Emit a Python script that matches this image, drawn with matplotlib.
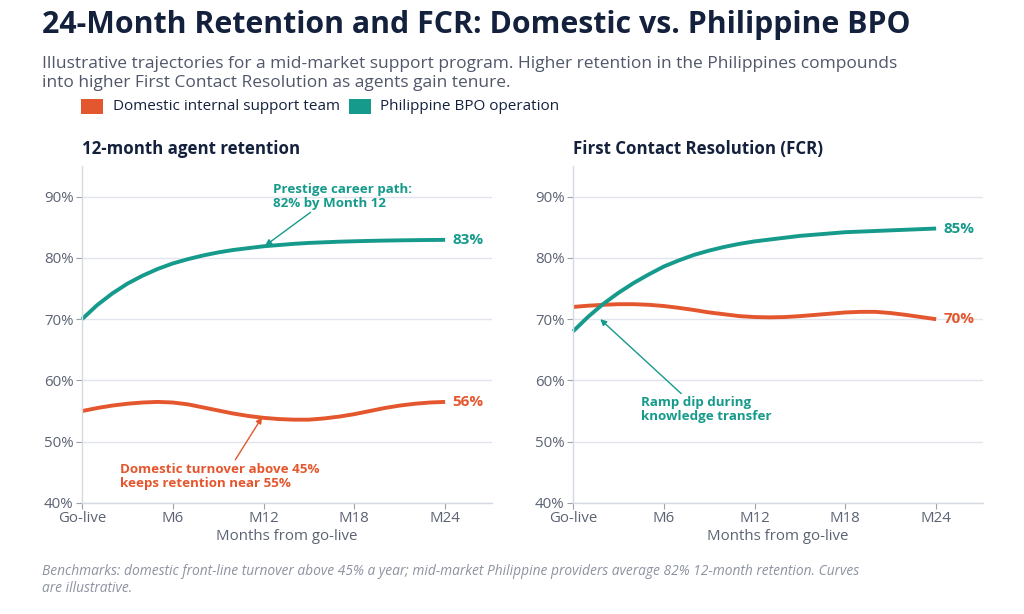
import numpy as np
import matplotlib.pyplot as plt
from matplotlib.patches import Rectangle

plt.rcParams['font.family'] = ['Open Sans', 'DejaVu Sans']

# colours
ORANGE = '#E4572E'
TEAL = '#159A8B'
NAVY = '#14213D'
GREY_TXT = '#5B6273'
GRID = '#E1E5EE'

months = list(range(25))
tick_pos = [0, 6, 12, 18, 24]
tick_labels = ['Go-live', 'M6', 'M12', 'M18', 'M24']

# 12-month agent retention (%)
ret_domestic = [55.0, 55.5, 55.9, 56.2, 56.4, 56.5, 56.4, 56.1, 55.6, 55.1, 54.6, 54.2,
                53.9, 53.7, 53.6, 53.6, 53.8, 54.1, 54.5, 55.0, 55.5, 55.9, 56.2, 56.4, 56.5]
ret_philippine = [70.0, 72.3, 74.2, 75.8, 77.1, 78.2, 79.1, 79.8, 80.4, 80.9, 81.3, 81.6,
                  81.9, 82.1, 82.3, 82.45, 82.55, 82.65, 82.72, 82.78, 82.83, 82.87, 82.9, 82.93, 82.95]

# First Contact Resolution (%)
fcr_domestic = [72.0, 72.2, 72.35, 72.45, 72.45, 72.35, 72.15, 71.85, 71.5, 71.1, 70.8, 70.5,
                70.35, 70.3, 70.35, 70.5, 70.7, 70.9, 71.1, 71.2, 71.2, 71.0, 70.7, 70.35, 70.0]
fcr_philippine = [68.0, 70.4, 72.5, 74.3, 75.9, 77.3, 78.6, 79.6, 80.5, 81.2, 81.8, 82.3,
                  82.7, 83.0, 83.3, 83.6, 83.8, 84.0, 84.2, 84.3, 84.4, 84.5, 84.6, 84.7, 84.8]

end_labels_ret = ['56%', '83%']
end_labels_fcr = ['70%', '85%']

fig = plt.figure(figsize=(10.24, 6.14), dpi=100)
fig.patch.set_facecolor('white')

ax1 = fig.add_axes([0.0801, 0.1808, 0.4004, 0.5488])
ax2 = fig.add_axes([0.5596, 0.1808, 0.4004, 0.5488])


def style_axis(ax, title):
    ax.set_xlim(0, 27.1)
    ax.set_ylim(40, 95)
    ax.set_yticks([40, 50, 60, 70, 80, 90])
    ax.set_yticklabels(['40%', '50%', '60%', '70%', '80%', '90%'])
    ax.set_xticks(tick_pos)
    ax.set_xticklabels(tick_labels)
    ax.grid(axis='y', color=GRID, linewidth=1.0)
    ax.set_axisbelow(True)
    for s in ['top', 'right']:
        ax.spines[s].set_visible(False)
    for s in ['left', 'bottom']:
        ax.spines[s].set_color('#D5D9E2')
        ax.spines[s].set_linewidth(1.0)
    ax.tick_params(colors=GREY_TXT, labelsize=10.8, length=4, width=0.8, pad=2)
    ax.tick_params(axis='both', color='#9AA0AD')
    ax.set_xlabel('Months from go-live', fontsize=10.8, color=GREY_TXT, labelpad=2)
    ax.text(0, 1.025, title, transform=ax.transAxes, fontsize=12.2, fontweight='bold',
            color=NAVY, ha='left', va='bottom')


style_axis(ax1, '12-month agent retention')
style_axis(ax2, 'First Contact Resolution (FCR)')

for ax, dom, phi, labs in [(ax1, ret_domestic, ret_philippine, end_labels_ret),
                           (ax2, fcr_domestic, fcr_philippine, end_labels_fcr)]:
    ax.plot(months, dom, color=ORANGE, linewidth=2.8, solid_capstyle='butt', clip_on=False)
    ax.plot(months, phi, color=TEAL, linewidth=2.8, solid_capstyle='butt', clip_on=False)
    ax.text(24.5, dom[-1], labs[0], color=ORANGE, fontsize=11, fontweight='bold',
            ha='left', va='center')
    ax.text(24.5, phi[-1], labs[1], color=TEAL, fontsize=11, fontweight='bold',
            ha='left', va='center')

# annotations
ax1.annotate('Prestige career path:\n82% by Month 12', xy=(12.1, 82.0), xytext=(12.6, 87.9),
             color=TEAL, fontsize=9.6, fontweight='bold', ha='left', va='bottom',
             linespacing=1.1,
             arrowprops=dict(arrowstyle='-|>', color=TEAL, lw=1.0, mutation_scale=9,
                             shrinkA=0, shrinkB=0, relpos=(0.3, 0)))
ax1.annotate('Domestic turnover above 45%\nkeeps retention near 55%', xy=(11.9, 54.0),
             xytext=(2.5, 46.6), color=ORANGE, fontsize=9.6, fontweight='bold',
             ha='left', va='top', linespacing=1.1,
             arrowprops=dict(arrowstyle='-|>', color=ORANGE, lw=1.0, mutation_scale=9,
                             shrinkA=0, shrinkB=0, relpos=(0.57, 1)))
ax2.annotate('Ramp dip during\nknowledge transfer', xy=(1.8, 70.0), xytext=(4.5, 57.4),
             color=TEAL, fontsize=9.6, fontweight='bold', ha='left', va='top',
             linespacing=1.1,
             arrowprops=dict(arrowstyle='-|>', color=TEAL, lw=1.0, mutation_scale=9,
                             shrinkA=0, shrinkB=0, relpos=(0.33, 1)))

# title block
fig.text(0.041, 0.960, '24-Month Retention and FCR: Domestic vs. Philippine BPO',
         fontsize=21.8, fontweight='bold', color=NAVY, ha='left', va='center')
fig.text(0.041, 0.880, 'Illustrative trajectories for a mid-market support program. '
         'Higher retention in the Philippines compounds\ninto higher First Contact '
         'Resolution as agents gain tenure.',
         fontsize=12.5, color='#50576A', ha='left', va='center', linespacing=1.22)

# legend
fig.patches.append(Rectangle((0.0795, 0.814), 0.0215, 0.025, transform=fig.transFigure,
                             facecolor=ORANGE, edgecolor='none'))
fig.text(0.110, 0.826, 'Domestic internal support team', fontsize=11, color=NAVY,
         ha='left', va='center')
fig.patches.append(Rectangle((0.3405, 0.814), 0.0215, 0.025, transform=fig.transFigure,
                             facecolor=TEAL, edgecolor='none'))
fig.text(0.371, 0.826, 'Philippine BPO operation', fontsize=11, color=NAVY,
         ha='left', va='center')

# footnote
fig.text(0.041, 0.055, 'Benchmarks: domestic front-line turnover above 45% a year; '
         'mid-market Philippine providers average 82% 12-month retention. Curves\n'
         'are illustrative.', fontsize=9.9, style='italic', color='#8C92A0',
         ha='left', va='center', linespacing=1.15)

plt.savefig('out.png', dpi=100, facecolor='white')
